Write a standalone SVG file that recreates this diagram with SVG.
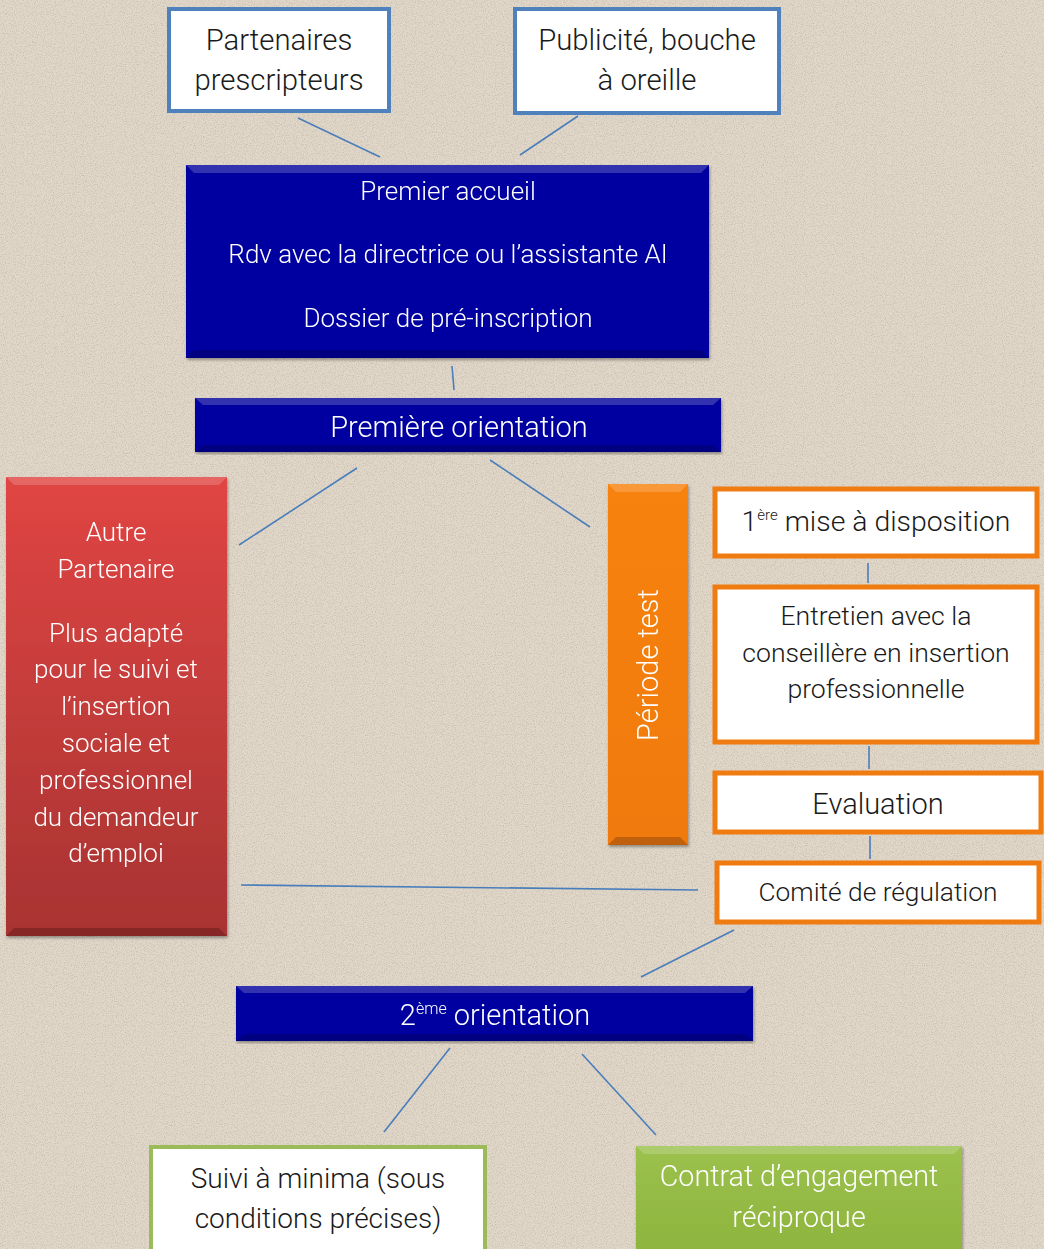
<svg xmlns="http://www.w3.org/2000/svg" width="1044" height="1249" viewBox="0 0 1044 1249">
<defs>
<filter id="noise" x="0" y="0" width="100%" height="100%">
<feTurbulence type="fractalNoise" baseFrequency="0.9" numOctaves="2" seed="3" result="n"/>
<feColorMatrix in="n" type="matrix" values="0 0 0 0 0.45  0 0 0 0 0.40  0 0 0 0 0.33  0 0 0 -2.2 1.25" result="m"/>
<feComposite in="m" in2="SourceGraphic" operator="in"/>
</filter>
<linearGradient id="red" x1="0" y1="0" x2="0" y2="1">
<stop offset="0" stop-color="#e04543"/><stop offset="1" stop-color="#a83332"/>
</linearGradient>
<linearGradient id="orange" x1="0" y1="0" x2="0" y2="1">
<stop offset="0" stop-color="#f7820c"/><stop offset="1" stop-color="#f07a0a"/>
</linearGradient>
<linearGradient id="green" x1="0" y1="0" x2="0" y2="1">
<stop offset="0" stop-color="#9cc14e"/><stop offset="1" stop-color="#8db43c"/>
</linearGradient>
<filter id="sh" x="-5%" y="-5%" width="110%" height="110%">
<feDropShadow dx="1" dy="2" stdDeviation="1.5" flood-color="#000" flood-opacity="0.35"/>
</filter>
<style>
.t{font-family:Roboto,"Liberation Sans",sans-serif;text-anchor:middle}
.dk{fill:#1a1a1a;font-size:28px;font-weight:300}
.wt{fill:#ffffff;font-size:26px;font-weight:300}
.wtb{fill:#ffffff;font-size:29px;font-weight:300}
.bl{fill:#ffffff;stroke:#4f81bd;stroke-width:4}
.ob{fill:#ffffff;stroke:#f07b10;stroke-width:5}
.gb{fill:#ffffff;stroke:#9bbb59;stroke-width:4}
.blue{fill:#0303a0}
.hl{fill:#ffffff;opacity:0.18}
.dkb{fill:#000000;opacity:0.2}
.c line{stroke:#4a7ebb;stroke-width:1.6}
</style>
</defs>
<rect width="1044" height="1249" fill="#e2d8ca"/>
<rect width="1044" height="1249" fill="#e2d8ca" filter="url(#noise)" opacity="0.6"/>

<g class="c" id="connectors">
<line x1="298" y1="118" x2="380" y2="157"/>
<line x1="578" y1="116" x2="520" y2="155"/>
<line x1="452" y1="366" x2="454" y2="390"/>
<line x1="357" y1="468" x2="239" y2="545"/>
<line x1="490" y1="460" x2="590" y2="527"/>
<line x1="868" y1="563" x2="868" y2="583"/>
<line x1="869" y1="746" x2="869" y2="769"/>
<line x1="870" y1="836" x2="870" y2="859"/>
<line x1="241" y1="885" x2="698" y2="890"/>
<line x1="734" y1="930" x2="641" y2="977"/>
<line x1="450" y1="1048" x2="384" y2="1132"/>
<line x1="582" y1="1054" x2="656" y2="1135"/>
</g>

<g id="partenaires">
<rect class="bl" x="169" y="9" width="220" height="102"/>
<text class="t dk" x="279" y="50" style="font-size:29.3px">Partenaires</text>
<text class="t dk" x="279" y="90" style="font-size:29.3px">prescripteurs</text>
</g>

<g id="publicite">
<rect class="bl" x="515" y="9" width="264" height="104"/>
<text class="t dk" x="647" y="50" style="font-size:29.3px">Publicité, bouche</text>
<text class="t dk" x="647" y="90" style="font-size:29.3px">à oreille</text>
</g>

<g id="premier-accueil" filter="url(#sh)">
<rect class="blue" x="186" y="165" width="523" height="193"/>
<polygon class="hl" points="186,165 709,165 701,173 194,173"/>
<polygon class="dkb" points="186,358 709,358 701,350 194,350"/>
<text class="t wt" x="448" y="200">Premier accueil</text>
<text class="t wt" x="448" y="263">Rdv avec la directrice ou l’assistante AI</text>
<text class="t wt" x="448" y="327">Dossier de pré-inscription</text>
</g>

<g id="premiere-orientation" filter="url(#sh)">
<rect class="blue" x="195" y="398" width="526" height="54"/>
<polygon class="hl" points="195,398 721,398 713,405 203,405"/>
<polygon class="dkb" points="195,452 721,452 713,445 203,445"/>
<text class="t wtb" x="459" y="437">Première orientation</text>
</g>

<g id="autre-partenaire" filter="url(#sh)">
<rect x="6" y="477" width="221" height="459" fill="url(#red)"/>
<polygon class="hl" points="6,477 227,477 219,485 14,485"/>
<polygon class="dkb" points="6,936 227,936 219,928 14,928"/>
<text class="t wt" x="116" y="541">Autre</text>
<text class="t wt" x="116" y="578">Partenaire</text>
<text class="t wt" x="116" y="642">Plus adapté</text>
<text class="t wt" x="116" y="678">pour le suivi et</text>
<text class="t wt" x="116" y="715">l’insertion</text>
<text class="t wt" x="116" y="752">sociale et</text>
<text class="t wt" x="116" y="789">professionnel</text>
<text class="t wt" x="116" y="826">du demandeur</text>
<text class="t wt" x="116" y="862">d’emploi</text>
</g>

<g id="periode-test" filter="url(#sh)">
<rect x="608" y="484" width="80" height="361" fill="url(#orange)"/>
<polygon class="hl" points="608,484 688,484 680,492 616,492"/>
<polygon class="dkb" points="608,845 688,845 680,837 616,837"/>
<text class="t wt" x="0" y="0" style="font-size:29px" transform="translate(658,665) rotate(-90)">Période test</text>
</g>

<g id="mise-a-disposition">
<rect class="ob" x="715" y="489" width="322" height="67"/>
<text class="t dk" x="876" y="531" style="font-size:28.4px">1<tspan style="font-size:15px" dy="-11">ère</tspan><tspan dy="11"> mise à disposition</tspan></text>
</g>

<g id="entretien">
<rect class="ob" x="715" y="587" width="322" height="155"/>
<text class="t dk" x="876" y="625" style="font-size:26.6px">Entretien avec la</text>
<text class="t dk" x="876" y="662" style="font-size:26.6px">conseillère en insertion</text>
<text class="t dk" x="876" y="698" style="font-size:26.6px">professionnelle</text>
</g>

<g id="evaluation">
<rect class="ob" x="715" y="773" width="326" height="59"/>
<text class="t dk" x="878" y="814" style="font-size:29px">Evaluation</text>
</g>

<g id="comite">
<rect class="ob" x="717" y="863" width="322" height="59"/>
<text class="t dk" x="878" y="901" style="font-size:26.3px">Comité de régulation</text>
</g>

<g id="deuxieme-orientation" filter="url(#sh)">
<rect class="blue" x="236" y="986" width="517" height="55"/>
<polygon class="hl" points="236,986 753,986 745,993 244,993"/>
<polygon class="dkb" points="236,1041 753,1041 745,1034 244,1034"/>
<text class="t wtb" x="495" y="1025">2<tspan style="font-size:16px" dy="-11">ème</tspan><tspan dy="11"> orientation</tspan></text>
</g>

<g id="suivi">
<rect class="gb" x="151" y="1147" width="334" height="106"/>
<text class="t dk" x="318" y="1188">Suivi à minima (sous</text>
<text class="t dk" x="318" y="1228">conditions précises)</text>
</g>

<g id="contrat" filter="url(#sh)">
<rect x="636" y="1146" width="326" height="110" fill="url(#green)"/>
<polygon class="hl" points="636,1146 962,1146 954,1154 644,1154"/>
<text class="t wt" x="799" y="1186" style="font-size:28.7px">Contrat d’engagement</text>
<text class="t wt" x="799" y="1227" style="font-size:28.7px">réciproque</text>
</g>
</svg>
